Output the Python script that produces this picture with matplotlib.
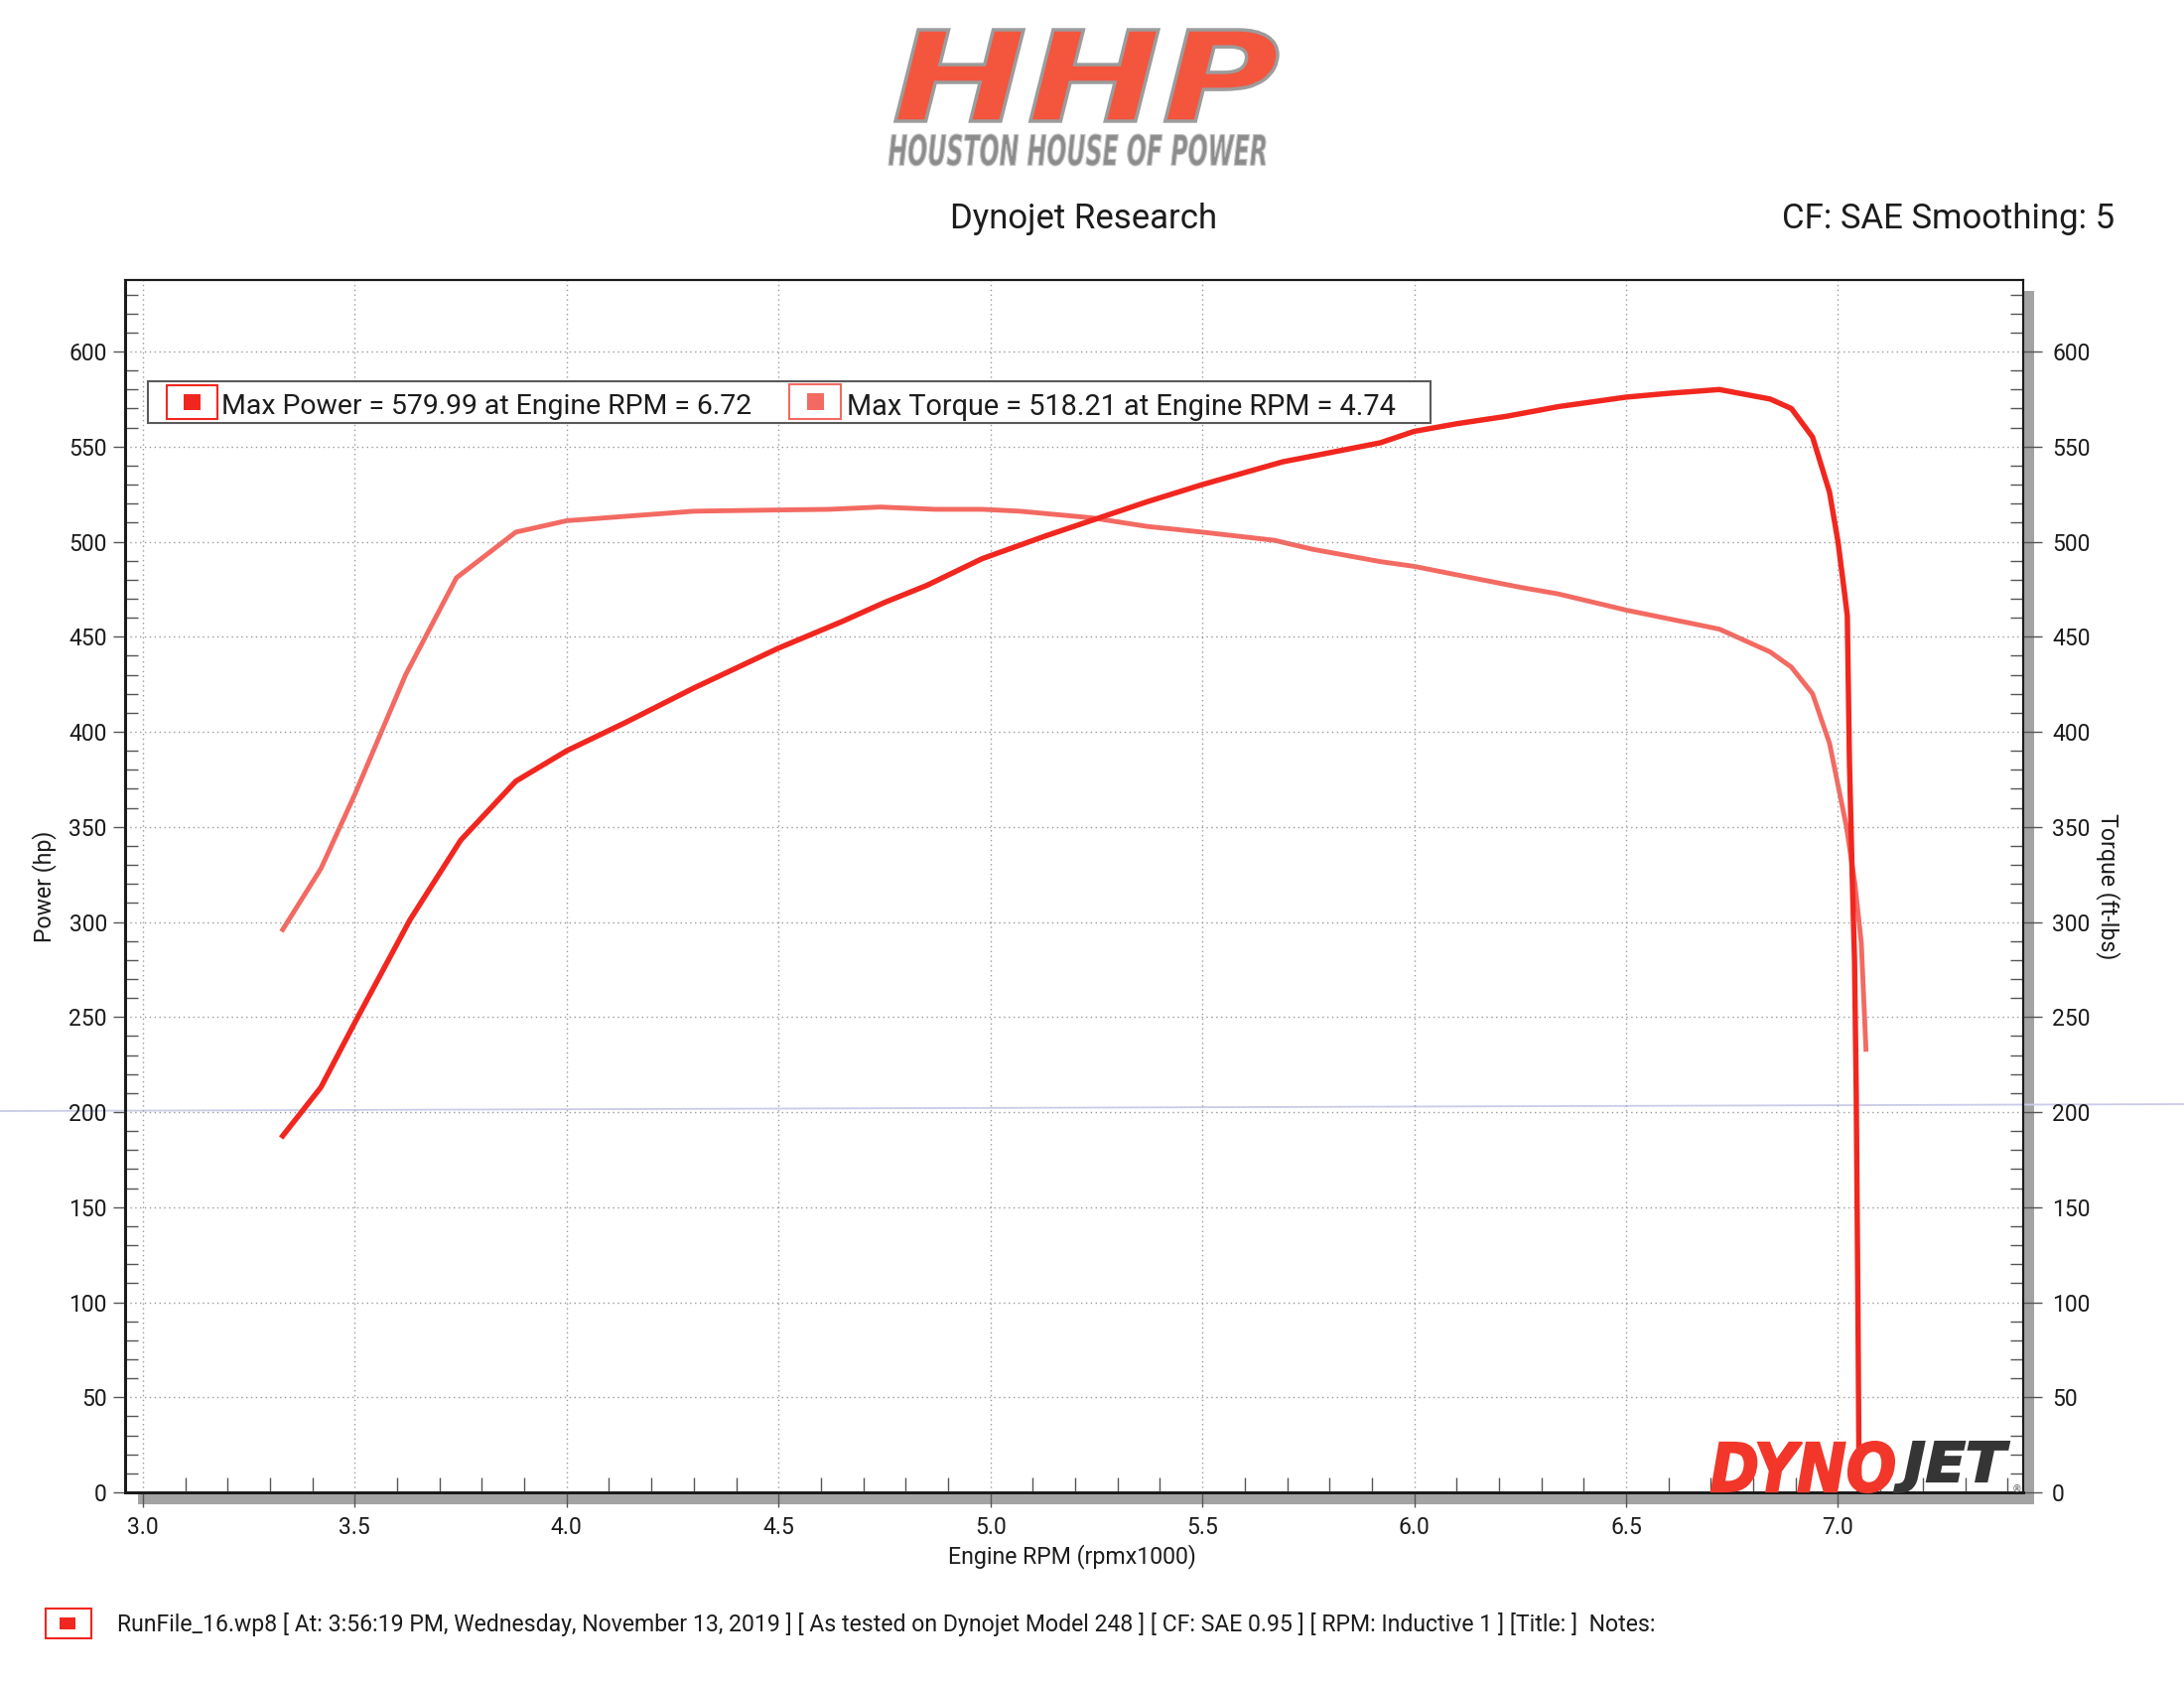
import matplotlib
matplotlib.use("Agg")
import matplotlib.pyplot as plt
from matplotlib.patches import Rectangle, PathPatch
from matplotlib.textpath import TextPath
from matplotlib.font_manager import FontProperties
from matplotlib.transforms import Affine2D
from matplotlib.ticker import MultipleLocator, FormatStrFormatter

# Dyno run data (rpm x1000)
rpm_power = [3.33, 3.42, 3.50, 3.63, 3.75, 3.88, 4.00, 4.14, 4.30, 4.50, 4.65,
             4.75, 4.85, 4.98, 5.13, 5.25, 5.37, 5.50, 5.69, 5.76, 5.92, 6.00, 6.10,
             6.22, 6.34, 6.50, 6.60, 6.72, 6.84, 6.89, 6.94, 6.98, 7.00, 7.016, 7.022,
             7.027, 7.033, 7.039, 7.043, 7.047, 7.05]
power_hp = [187.5, 213, 247, 301, 343, 374, 390, 405, 423, 444, 458,
            468, 477, 491, 503, 512, 521, 530, 542, 545, 552, 558, 562,
            566, 571, 576, 578, 580, 575, 570, 555, 526, 500, 472, 461,
            385, 329, 280, 211, 100, 0]

rpm_torque = [3.33, 3.42, 3.50, 3.62, 3.74, 3.88, 4.00, 4.30, 4.45, 4.62, 4.74, 4.87,
              4.98, 5.07, 5.24, 5.37, 5.50, 5.67, 5.76, 5.92, 6.00, 6.09, 6.25, 6.34,
              6.50, 6.72, 6.84, 6.89, 6.94, 6.98, 7.02, 7.04, 7.055, 7.066]
torque_ftlb = [296, 328, 367, 430, 481, 505, 511, 516, 516.5, 517, 518.2, 517,
               517, 516, 512.5, 508, 505, 500.7, 496, 489.5, 487, 483, 476, 472.5,
               464, 454, 442, 434, 420, 394, 350, 320, 289, 233]

MAX_POWER = 579.99
MAX_POWER_RPM = 6.72
MAX_TORQUE = 518.21
MAX_TORQUE_RPM = 4.74

RUN_INFO = ("RunFile_16.wp8 [ At: 3:56:19 PM, Wednesday, November 13, 2019 ] "
            "[ As tested on Dynojet Model 248 ] [ CF: SAE 0.95 ] [ RPM: Inductive 1 ] "
            "[Title: ]  Notes:")

POWER_RED = "#f1271f"
TORQUE_RED = "#f36a62"
TEXT = "#1c1c1c"

plt.rcParams["font.family"] = ["Roboto", "DejaVu Sans"]

W, H = 2200, 1695
fig = plt.figure(figsize=(W / 100, H / 100), dpi=100)

# background layer (shadows, scan line) and foreground layer (logos, legend), in pixels
bg = fig.add_axes([0, 0, 1, 1], zorder=-1)
bg.set_xlim(0, W)
bg.set_ylim(H, 0)
bg.axis("off")

# main plot area
ax = fig.add_axes([126 / W, (H - 1503) / H, (2038 - 126) / W, (1503 - 282) / H])
ax2 = ax.twinx()
ax.set_zorder(ax2.get_zorder() + 1)
ax.patch.set_visible(False)

ax2.plot(rpm_torque, torque_ftlb, color=TORQUE_RED, lw=3.5, solid_joinstyle="round")
ax.plot(rpm_power, power_hp, color=POWER_RED, lw=3.9, solid_joinstyle="round")

ax.set_xlim(2.958, 7.437)
ax.set_ylim(0, 637.6)
ax2.set_ylim(0, 637.6)

ax.xaxis.set_major_locator(MultipleLocator(0.5))
ax.xaxis.set_minor_locator(MultipleLocator(0.1))
ax.xaxis.set_major_formatter(FormatStrFormatter("%.1f"))
for a in (ax, ax2):
    a.yaxis.set_major_locator(MultipleLocator(50))
    a.yaxis.set_minor_locator(MultipleLocator(10))

tick_col = "#555555"
ax.tick_params(axis="x", which="major", direction="out", length=11, width=1, color=tick_col,
               pad=6, labelsize=16.5, labelcolor=TEXT)
ax.tick_params(axis="x", which="minor", direction="in", length=10.5, width=1, color=tick_col)
ax.tick_params(axis="y", which="major", direction="out", length=8.6, width=1, color=tick_col,
               pad=4.5, labelsize=16.5, labelcolor=TEXT)
ax.tick_params(axis="y", which="minor", direction="in", length=9.4, width=1, color=tick_col)
ax2.tick_params(axis="y", which="major", direction="out", length=14, width=1, color=tick_col,
                pad=7, labelsize=16.5, labelcolor=TEXT)
ax2.tick_params(axis="y", which="minor", direction="in", length=9.4, width=1, color=tick_col)

ax.grid(which="major", color="#9a9a9a", linestyle=(0, (1, 2.5)), linewidth=1)

for a in (ax, ax2):
    a.spines["left"].set_linewidth(2)
    a.spines["bottom"].set_linewidth(2)
    a.spines["top"].set_linewidth(1.5)
    a.spines["right"].set_linewidth(1.5)
    for s in a.spines.values():
        s.set_color("#1a1a1a")

ax.set_xlabel("Engine RPM (rpmx1000)", fontsize=16.7, color=TEXT)
ax.xaxis.set_label_coords(0.499, -0.043)
ax.set_ylabel("Power (hp)", fontsize=16.7, color=TEXT)
ax.yaxis.set_label_coords(-0.036, 0.5)
ax2.set_ylabel("Torque (ft-lbs)", fontsize=16.7, color=TEXT, rotation=-90)
ax2.yaxis.set_label_coords(1.051, 0.5)

# drop shadows under and right of the plot frame
bg.add_patch(Rectangle((139, 1504), 1910, 11, facecolor="#a3a3a3", edgecolor="none"))
bg.add_patch(Rectangle((2039, 293), 10, 1222, facecolor="#a3a3a3", edgecolor="none"))
# faint scanner line across the page
bg.plot([0, W], [1119, 1112], color="#c9cbe8", lw=1.3)

fg = fig.add_axes([0, 0, 1, 1], zorder=10)
fg.set_xlim(0, W)
fg.set_ylim(H, 0)
fg.axis("off")
fg.patch.set_visible(False)


# draw a string stretched into a pixel box (for the logo lettering)
def fit_text(s, x0, x1, y_top, y_bot, prop, face, edge="none", lw=0):
    tp = TextPath((0, 0), s, size=100, prop=prop)
    bb = tp.get_extents()
    tr = Affine2D().translate(-bb.x0, -bb.y0) \
        .scale((x1 - x0) / bb.width, -(y_bot - y_top) / bb.height).translate(x0, y_bot)
    fg.add_patch(PathPatch(tr.transform_path(tp), facecolor=face, edgecolor=edge, lw=lw))


logo_font = FontProperties(family="DejaVu Sans", weight="bold", style="italic")

# HHP header logo
fit_text("HHP", 902, 1287, 30, 122, logo_font, "#f4553d", "#9c9c9c", 2.5)
fit_text("HOUSTON HOUSE OF POWER", 895, 1275, 135, 167, logo_font, "#8c8c8c", "#c4c4c4", 0.8)

# DYNOJET logo in the lower right corner
fit_text("DYNO", 1724, 1908, 1452, 1503, logo_font, "#f2372a", "#f2372a", 1.5)
fit_text("JET", 1908, 2024, 1452, 1503, logo_font, "#353535", "#353535", 1.5)
fg.text(2031, 1503, "®", fontsize=7, color="#555555", ha="center", va="baseline",
        family="DejaVu Sans")

# header texts
fg.text(1092, 230, "Dynojet Research", fontsize=25, color=TEXT, ha="center", va="baseline")
fg.text(2130, 230, "CF: SAE Smoothing: 5", fontsize=25, color=TEXT, ha="right", va="baseline")

# legend box with max values
fg.add_patch(Rectangle((149, 384), 1292, 42, facecolor="white", edgecolor="#5a5a5a", lw=1.5))
fg.add_patch(Rectangle((168, 388), 51, 34, facecolor="none", edgecolor=POWER_RED, lw=1.5))
fg.add_patch(Rectangle((185, 397), 17, 16, facecolor=POWER_RED, edgecolor="none"))
fg.text(223, 417, f"Max Power = {MAX_POWER:.2f} at Engine RPM = {MAX_POWER_RPM:.2f}",
        fontsize=20.4, color=TEXT, va="baseline")
fg.add_patch(Rectangle((795, 387), 52, 35, facecolor="none", edgecolor=TORQUE_RED, lw=1.5))
fg.add_patch(Rectangle((813, 396), 17, 17, facecolor=TORQUE_RED, edgecolor="none"))
fg.text(853, 418, f"Max Torque = {MAX_TORQUE:.2f} at Engine RPM = {MAX_TORQUE_RPM:.2f}",
        fontsize=20.8, color=TEXT, va="baseline")

# run file footer
fg.add_patch(Rectangle((46, 1620), 46, 30, facecolor="none", edgecolor=POWER_RED, lw=1.5))
fg.add_patch(Rectangle((60, 1629), 16, 12, facecolor=POWER_RED, edgecolor="none"))
fg.text(118, 1643, RUN_INFO, fontsize=16.6, color=TEXT, va="baseline")

fig.savefig("out.png", dpi=100, facecolor="white")
